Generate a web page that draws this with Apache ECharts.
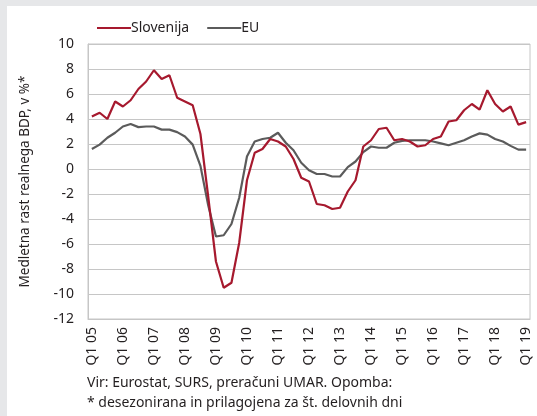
<!DOCTYPE html>
<html><head><meta charset="utf-8">
<script src="https://cdn.jsdelivr.net/npm/echarts@6/dist/echarts.min.js"></script>
<style>html,body{margin:0;padding:0;background:#e6e7e9;}#c{width:537px;height:416px;}</style>
</head><body><div id="c"></div>
<script>
const years = ['05','06','07','08','09','10','11','12','13','14','15','16','17','18','19'];
const categories = [];
years.forEach((y, i) => { const n = i === years.length - 1 ? 1 : 4; for (let q = 1; q <= n; q++) categories.push('Q' + q + ' ' + y); });

const slovenija = [4.2,4.5,4.0,5.4, 5.0,5.5,6.4,7.0, 7.9,7.2,7.5,5.7, 5.4,5.1,2.8,-2.2,
  -7.4,-9.5,-9.1,-5.9, -0.9,1.3,1.6,2.4, 2.2,1.8,0.8,-0.7, -1.0,-2.8,-2.9,-3.2,
  -3.1,-1.8,-0.9,1.8, 2.3,3.2,3.3,2.3, 2.4,2.2,1.8,1.9, 2.4,2.6,3.8,3.9,
  4.7,5.2,4.75,6.3, 5.2,4.6,5.0,3.55, 3.75];
const eu = [1.6,1.95,2.5,2.9, 3.4,3.6,3.35,3.4, 3.4,3.15,3.15,2.95, 2.6,1.95,0.25,-2.9,
  -5.4,-5.3,-4.4,-2.3, 1.0,2.2,2.4,2.5, 2.9,2.1,1.5,0.5, -0.1,-0.4,-0.4,-0.6,
  -0.6,0.15,0.6,1.35, 1.8,1.7,1.7,2.1, 2.25,2.3,2.3,2.3, 2.2,2.05,1.9,2.1,
  2.3,2.6,2.85,2.75, 2.4,2.2,1.85,1.55, 1.55];

const FONT = 'Noto Sans';
const TXT = '#231f20';
const RED = '#a6192e', GRAY = '#5b5b5b';
const chart = echarts.init(document.getElementById('c'), null, {renderer:'canvas'});
chart.setOption({
  backgroundColor: 'transparent',
  animation: false,
  textStyle: {fontFamily: FONT, color: TXT},
  graphic: [
    {type:'rect', shape:{x:7,y:6,width:530,height:410}, style:{fill:'#ffffff'}, z:-10},
    {type:'text', left:87, top:376, style:{text:'Vir: Eurostat, SURS, preračuni UMAR. Opomba:', font:'14px "Noto Sans"', fill:TXT}},
    {type:'text', left:87, top:396, style:{text:'* desezonirana in prilagojena za št. delovnih dni', font:'14px "Noto Sans"', fill:TXT}}
  ],
  legend: {
    top: 16, left: 92, itemWidth: 34, itemHeight: 2, itemGap: 18,
    textStyle: {fontFamily: FONT, fontSize: 14, color: TXT, padding:[0,0,0,-5]},
    data: [{name:'Slovenija', icon:'rect'}, {name:'EU', icon:'rect'}]
  },
  grid: {left: 88, right: 7, top: 44, bottom: 97, show: true, borderColor: '#c6c6c6', borderWidth: 1},
  xAxis: {
    type: 'category', data: categories, boundaryGap: true,
    axisLine: {show: true, onZero: false, lineStyle: {color: '#c6c6c6'}},
    axisTick: {show: false},
    axisLabel: {interval: 3, rotate: 90, fontSize: 14, color: TXT, fontFamily: FONT, margin: 8}
  },
  yAxis: {
    type: 'value', min: -12, max: 10, interval: 2,
    name: 'Medletna rast realnega BDP, v %*', nameLocation: 'middle', nameGap: 56,
    nameTextStyle: {fontSize: 13.5, color: TXT, fontFamily: FONT},
    axisLine: {show: true, lineStyle: {color: '#c6c6c6'}},
    axisTick: {show: false},
    axisLabel: {fontSize: 14, color: TXT, fontFamily: FONT, margin: 14},
    splitLine: {lineStyle: {color: '#c6c6c6', width: 1}}
  },
  series: [
    {name: 'Slovenija', type: 'line', data: slovenija, symbol: 'none', lineStyle: {color: RED, width: 2.2}, itemStyle: {color: RED}, z: 3},
    {name: 'EU', type: 'line', data: eu, symbol: 'none', lineStyle: {color: GRAY, width: 2.2}, itemStyle: {color: GRAY}, z: 2}
  ]
});
</script></body></html>
